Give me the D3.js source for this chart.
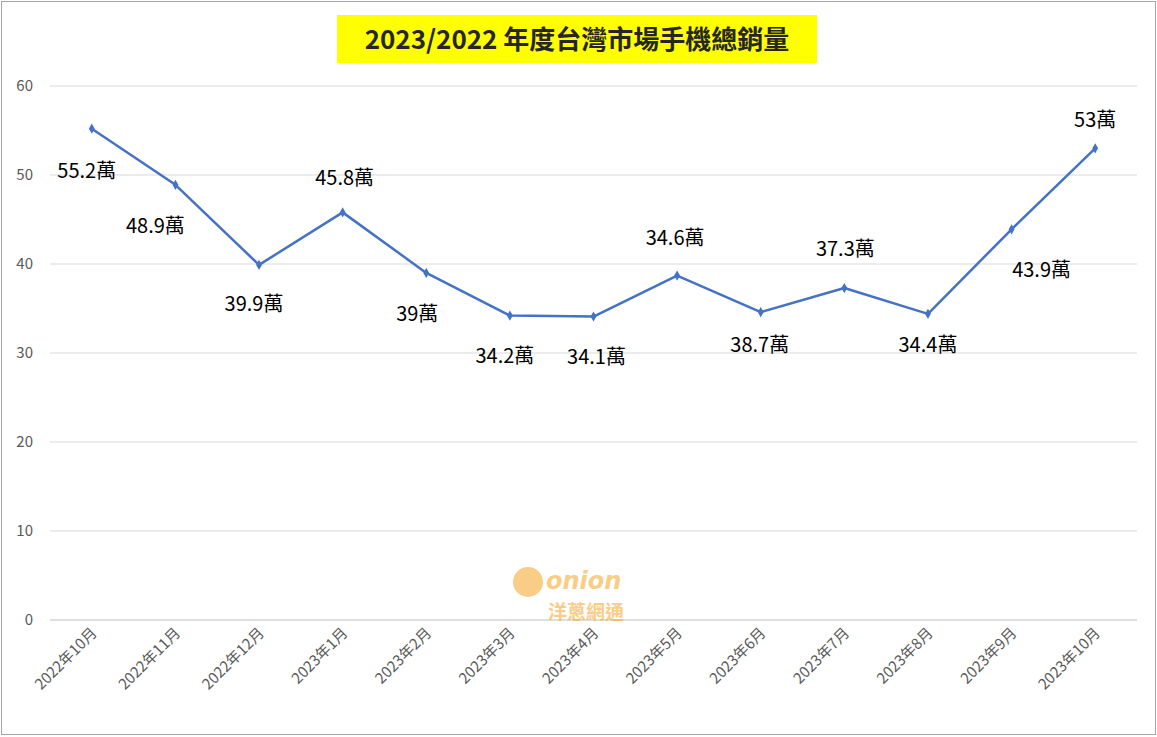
<!DOCTYPE html>
<html><head><meta charset="utf-8">
<script src="https://cdn.jsdelivr.net/npm/d3@7"></script>
<style>body{margin:0;background:#fff}svg{display:block}</style>
</head><body>
<svg id="c" width="1157" height="737"></svg>
<script>
const categories = ["2022年10月","2022年11月","2022年12月","2023年1月","2023年2月","2023年3月","2023年4月","2023年5月","2023年6月","2023年7月","2023年8月","2023年9月","2023年10月"];
const values = [55.2,48.9,39.9,45.8,39,34.2,34.1,38.7,34.6,37.3,34.4,43.9,53];
const labels = ["55.2萬","48.9萬","39.9萬","45.8萬","39萬","34.2萬","34.1萬","34.6萬","38.7萬","37.3萬","34.4萬","43.9萬","53萬"];
const labelOffsets = [[-5,42],[-20,41],[-5,39],[2,-34],[-9,41],[-5,40],[3,40],[-2,-38],[-1,33],[1,-39],[0,31],[30,41],[0,-28]];
const yTicks = [0,10,20,30,40,50,60];
const title = "2023/2022 年度台灣市場手機總銷量";

const svg = d3.select("#c");
const font = "'Noto Sans CJK TC','Noto Sans',sans-serif";
svg.append("rect").attr("x",1.5).attr("y",1.5).attr("width",1154).attr("height",733).attr("fill","#fff").attr("stroke","#a6a6a6");

const x = d3.scaleBand().domain(categories).range([50,1137]);
const y = d3.scaleLinear().domain([0,60]).range([620,86]);

const g = svg.append("g");
g.selectAll("line.grid").data(yTicks).join("line")
  .attr("x1",50).attr("x2",1137).attr("y1",d=>y(d)).attr("y2",d=>y(d))
  .attr("stroke",d=>d===0?"#bfbfbf":"#d9d9d9").attr("stroke-width",1);
g.selectAll("text.yt").data(yTicks).join("text")
  .attr("x",33).attr("y",d=>y(d)).attr("dy","0.35em").attr("text-anchor","end")
  .attr("font-family",font).attr("font-size",15).attr("fill","#595959").text(d=>d);

g.selectAll("text.xt").data(categories).join("text")
  .attr("transform",d=>`translate(${x(d)+x.bandwidth()/2+6},${634}) rotate(-45)`)
  .attr("text-anchor","end").attr("font-family",font).attr("font-size",15).attr("fill","#595959").text(d=>d);

// watermark
const wm = svg.append("g").attr("opacity",0.55);
wm.append("circle").attr("cx",528).attr("cy",582).attr("r",15).attr("fill","#f5a623");
wm.append("text").attr("x",546).attr("y",589).attr("font-family","'DejaVu Sans',sans-serif").attr("font-weight","bold").attr("font-style","italic").attr("font-size",24).attr("fill","#f5a623").text("onion");
wm.append("text").attr("x",548).attr("y",619).attr("font-family",font).attr("font-weight","bold").attr("font-size",19).attr("fill","#f5a623").text("洋蔥網通");

const pts = categories.map((c,i)=>[x(c)+x.bandwidth()/2, y(values[i])]);
svg.append("path").attr("d",d3.line()(pts)).attr("fill","none").attr("stroke","#4472C4").attr("stroke-width",2.5).attr("stroke-linejoin","round");
svg.selectAll("path.m").data(pts).join("path")
  .attr("d",d3.symbol(d3.symbolDiamond,30)).attr("transform",d=>`translate(${d[0]},${d[1]})`).attr("fill","#4472C4");
svg.selectAll("text.lb").data(labels).join("text")
  .attr("x",(d,i)=>pts[i][0]+labelOffsets[i][0]).attr("y",(d,i)=>pts[i][1]+labelOffsets[i][1])
  .attr("dy","0.35em").attr("text-anchor","middle").attr("font-family",font).attr("font-size",20).attr("fill","#000").text(d=>d);

svg.append("rect").attr("x",337).attr("y",15).attr("width",480).attr("height",48).attr("fill","#ffff00");
svg.append("text").attr("x",577).attr("y",40).attr("dy","0.35em").attr("text-anchor","middle")
  .attr("font-family",font).attr("font-weight","bold").attr("font-size",26).attr("fill","#262626").text(title);
</script>
</body></html>
